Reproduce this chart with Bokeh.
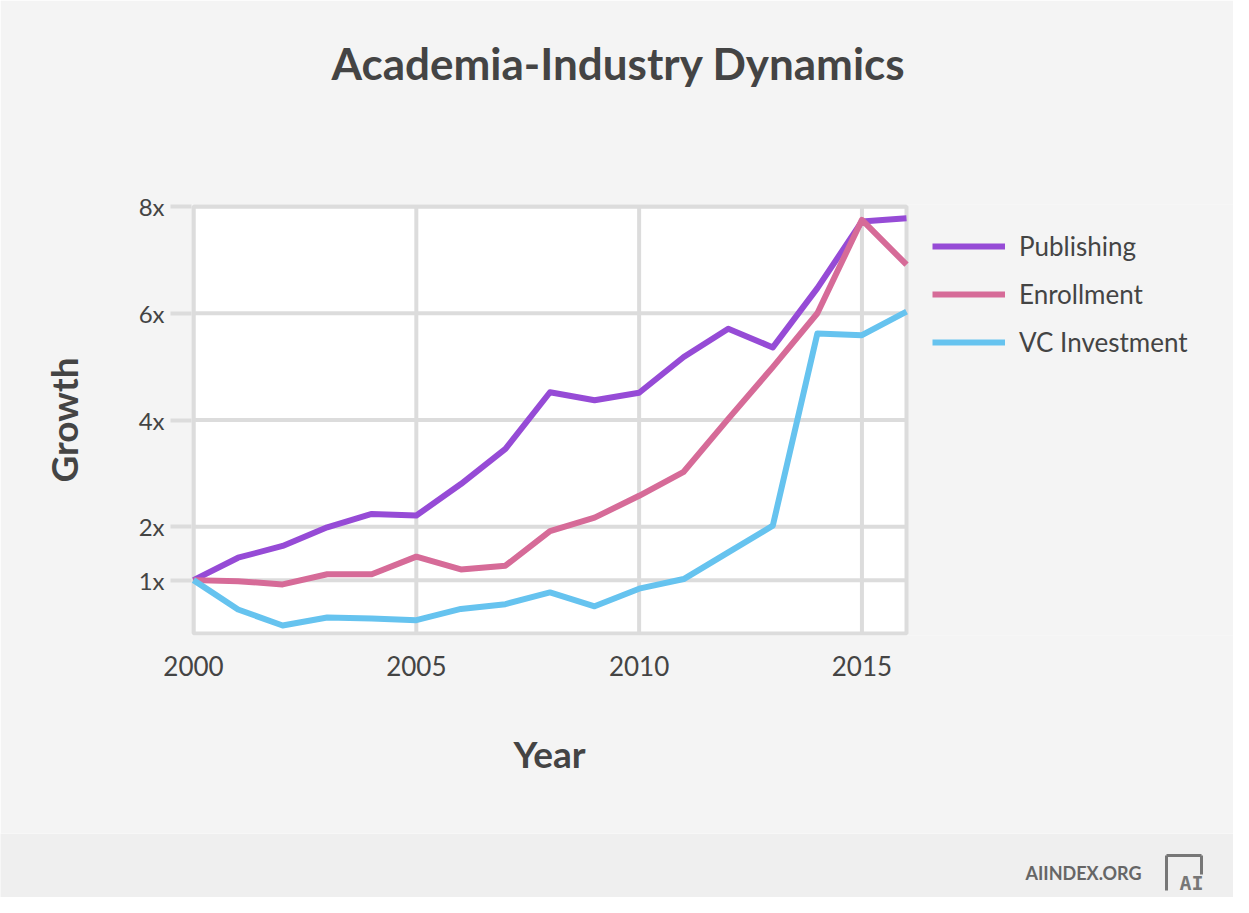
from bokeh.plotting import figure
from bokeh.models import (Range1d, FixedTicker, Legend, LegendItem, Title,
                          ColumnDataSource)
from bokeh.embed import file_html
from bokeh.resources import INLINE
from bokeh.core.properties import value

# ---- data ----
years = [2000, 2001, 2002, 2003, 2004, 2005, 2006, 2007, 2008,
         2009, 2010, 2011, 2012, 2013, 2014, 2015, 2016]
publishing = [1.0, 1.42, 1.64, 1.99, 2.24, 2.21, 2.80, 3.46, 4.52,
              4.37, 4.51, 5.18, 5.71, 5.36, 6.47, 7.72, 7.78]
enrollment = [1.0, 0.98, 0.92, 1.11, 1.11, 1.44, 1.20, 1.27, 1.92,
              2.17, 2.58, 3.03, 4.02, 4.99, 6.00, 7.75, 6.91]
vc_investment = [1.0, 0.45, 0.15, 0.30, 0.28, 0.25, 0.46, 0.55, 0.77,
                 0.51, 0.84, 1.02, 1.52, 2.02, 5.62, 5.59, 6.03]
series_names = ["Publishing", "Enrollment", "VC Investment"]
series_colors = ["#964bd6", "#d66b98", "#66c3ef"]
x_ticks = [2000, 2005, 2010, 2015]
y_ticks = [1, 2, 4, 6, 8]
y_tick_labels = ["1x", "2x", "4x", "6x", "8x"]
y_min, y_max = 0, 8

FONT = "Lato"
TEXT = "#444444"
GRID = "#dcdcdc"
BG = "#f4f4f4"

# ---- geometry (pixels) ----
W, H = 1233, 833
LEFT, TOP, BOTTOM = 191, 204, 198      # borders around the drawing frame
PLOT_W, PLOT_H = 713, 427              # size of the white plotting area
PAD = 2                                # room for the thick border line
x0, x1 = years[0], years[-1]
px_per_x = PLOT_W / (x1 - x0)
px_per_y = PLOT_H / (y_max - y_min)
frame_w = W - LEFT
frame_h = H - TOP - BOTTOM
x_start = x0 - PAD / px_per_x
y_start = y_min - PAD / px_per_y

p = figure(width=W, height=H, output_backend="svg", toolbar_location=None,
           x_range=Range1d(x_start, x_start + frame_w / px_per_x),
           y_range=Range1d(y_start, y_start + frame_h / px_per_y),
           min_border_left=LEFT, min_border_right=0,
           min_border_top=TOP, min_border_bottom=BOTTOM,
           background_fill_color=BG, border_fill_color=BG)
p.outline_line_color = None
p.xgrid.visible = False
p.ygrid.visible = False

# spacer next to the frame, then the real title above it
p.add_layout(Title(text=" ", text_font_size="1px", standoff=113), "above")
p.add_layout(Title(text="Academia-Industry Dynamics", align="left", offset=140,
                   standoff=0, text_font=FONT, text_font_size="44px",
                   text_font_style="bold", text_color=TEXT), "above")

# axes
p.xaxis.ticker = FixedTicker(ticks=x_ticks)
p.yaxis.ticker = FixedTicker(ticks=y_ticks)
p.yaxis.major_label_overrides = {t: l for t, l in zip(y_ticks, y_tick_labels)}
for ax in (p.xaxis, p.yaxis):
    ax.axis_line_color = None
    ax.minor_tick_line_color = None
    ax.major_label_text_font = FONT
    ax.major_label_text_color = TEXT
p.xaxis.major_tick_line_color = None
p.xaxis.major_label_text_font_size = "26px"
p.xaxis.major_label_standoff = 14
p.yaxis.major_label_text_font_size = "24px"
p.yaxis.major_tick_in = 0
p.yaxis.major_tick_out = 21
p.yaxis.major_tick_line_color = GRID
p.yaxis.major_tick_line_width = 4
p.yaxis.major_label_standoff = 6
p.yaxis.axis_label = "Growth"
p.yaxis.axis_label_standoff = 50
p.yaxis.axis_label_text_font = FONT
p.yaxis.axis_label_text_font_size = "37px"
p.yaxis.axis_label_text_font_style = "bold"
p.yaxis.axis_label_text_color = TEXT

p.add_layout(Title(text="Year", align="left", offset=322, standoff=104,
                   vertical_align="top", text_font=FONT, text_font_size="37px",
                   text_font_style="bold", text_color=TEXT), "below")

# white plotting area, grid and border
p.quad(left=[x0], right=[x1], bottom=[y_min], top=[y_max],
       fill_color="white", line_color=None)
p.segment(x0=x_ticks, y0=[y_min] * len(x_ticks), x1=x_ticks, y1=[y_max] * len(x_ticks),
          line_color=GRID, line_width=4)
p.segment(x0=[x0] * len(y_ticks), y0=y_ticks, x1=[x1] * len(y_ticks), y1=y_ticks,
          line_color=GRID, line_width=4)
p.quad(left=[x0], right=[x1], bottom=[y_min], top=[y_max],
       fill_color=None, line_color=GRID, line_width=4)

src = ColumnDataSource(dict(year=years, pub=publishing, enr=enrollment, vc=vc_investment))
renderers = []
for col, c in zip(["pub", "enr", "vc"], series_colors):
    r = p.line("year", col, source=src, line_color=c, line_width=6, line_join="round")
    renderers.append(r)

legend = Legend(items=[LegendItem(label=n, renderers=[r]) for n, r in zip(series_names, renderers)],
                location=(741, 277), orientation="vertical", margin=0, padding=0, spacing=16,
                glyph_width=73, glyph_height=32, label_height=32, label_standoff=14,
                label_text_font=FONT, label_text_font_size="26px", label_text_color=TEXT,
                background_fill_alpha=0, border_line_color=None)
p.add_layout(legend, "center")

# footer band
f = figure(width=W, height=64, output_backend="svg", toolbar_location=None,
           x_range=Range1d(0, W), y_range=Range1d(0, 64),
           x_axis_location=None, y_axis_location=None,
           min_border=0, background_fill_color="#efefef", border_fill_color="#efefef")
f.outline_line_color = None
f.xgrid.visible = False
f.ygrid.visible = False
f.text(x=[1025], y=[25], text=["AIINDEX.ORG"], text_font=value(FONT),
       text_font_size="18px", text_font_style="bold", text_color="#666666",
       text_align="left", text_baseline="middle")
f.multi_line(xs=[[1166, 1166], [1166, 1201], [1201, 1201]],
             ys=[[7, 42], [42, 42], [42, 23]], line_color="#777777", line_width=3)
f.text(x=[1191], y=[15], text=["AI"], text_font=value("DejaVu Sans Mono"),
       text_font_size="20px", text_font_style="bold", text_color="#777777",
       text_align="center", text_baseline="middle")

open("out.html", "w").write(file_html([p, f], INLINE))
